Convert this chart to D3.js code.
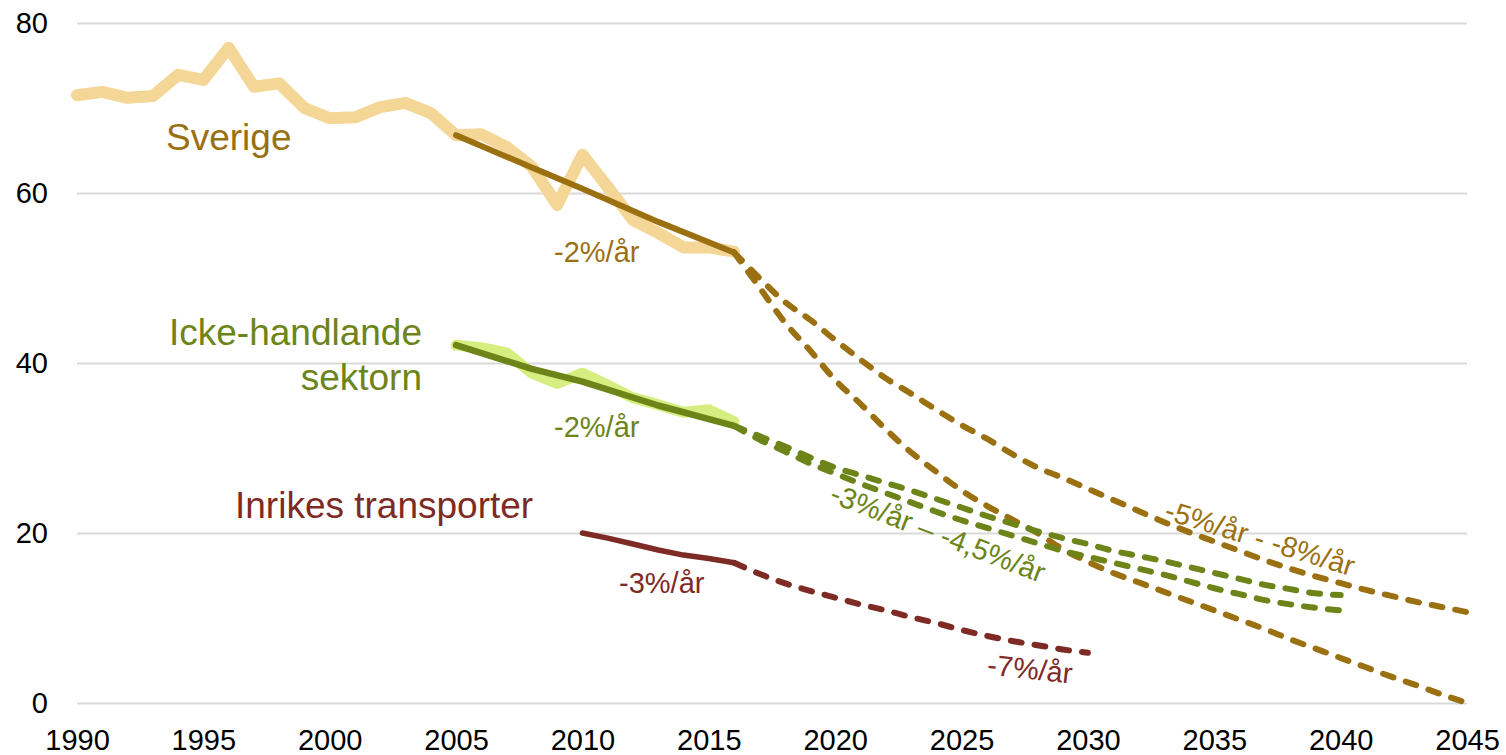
<!DOCTYPE html>
<html lang="sv">
<head>
    <meta charset="utf-8">
    <title>Utsläpp</title>
    <style>
        body { margin: 0; background: #fff; }
        svg { display: block; font-family: "Liberation Sans", Arial, sans-serif; }
        .grid line { stroke: #d9d9d9; stroke-width: 2; }
        .tick text { fill: #000; font-size: 29px; }
    </style>
</head>
<body>
    <div id="container"></div>

    <script src="https://cdn.jsdelivr.net/npm/d3@7"></script>
    <script>
        // Data (Mt CO2e)
        const sverigeYears = [1990, 1991, 1992, 1993, 1994, 1995, 1996, 1997, 1998, 1999, 2000, 2001, 2002,
            2003, 2004, 2005, 2006, 2007, 2008, 2009, 2010, 2011, 2012, 2013, 2014, 2015, 2016];
        const sverigeValues = [71.5, 71.9, 71.2, 71.4, 73.9, 73.3, 77.1, 72.5, 72.9, 70.0, 68.8, 68.9, 70.1,
            70.6, 69.4, 66.8, 66.9, 65.4, 63.1, 58.6, 64.5, 60.7, 56.8, 55.3, 53.6, 53.6, 53.1];

        const sverigeTrendYears = [2005, 2008, 2010, 2013, 2016];
        const sverigeTrendValues = [66.8, 63.0, 60.5, 56.6, 53.0];

        const projYears = [2016, 2017, 2018, 2019, 2020, 2021, 2022, 2023, 2024, 2025, 2026, 2027, 2028,
            2029, 2030, 2031, 2032, 2033, 2034, 2035, 2036, 2037, 2038, 2039, 2040, 2041, 2042, 2043, 2044, 2045];
        const sverigeLow5 = [53.0, 50.0, 47.2, 45.1, 42.7, 40.4, 38.2, 36.4, 34.5, 32.7, 31.1, 29.3, 27.7,
            26.5, 25.2, 23.9, 22.6, 21.3, 20.1, 19.0, 17.9, 16.8, 15.8, 14.9, 14.1, 13.3, 12.6, 11.9, 11.3, 10.7];
        const sverigeHigh8 = [53.0, 48.9, 44.8, 41.5, 38.0, 35.2, 32.2, 29.5, 27.2, 25.0, 23.2, 21.6, 20.0,
            18.1, 16.6, 15.3, 14.2, 13.1, 12.0, 10.9, 9.8, 8.7, 7.5, 6.4, 5.3, 4.2, 3.1, 2.1, 1.0, 0.0];

        const ickeYears = [2005, 2006, 2007, 2008, 2009, 2010, 2011, 2012, 2013, 2014, 2015, 2016];
        const ickeValues = [42.1, 41.8, 41.2, 38.8, 37.6, 38.8, 37.4, 35.9, 35.1, 34.2, 34.5, 33.1];
        const ickeTrendYears = [2005, 2008, 2010, 2013, 2016];
        const ickeTrendValues = [42.1, 39.3, 37.8, 35.0, 32.6];

        const ickeProjYears = [2016, 2017, 2018, 2019, 2020, 2021, 2022, 2023, 2024, 2025, 2026, 2027, 2028,
            2029, 2030, 2031, 2032, 2033, 2034, 2035, 2036, 2037, 2038, 2039, 2040];
        const ickeLow3 = [32.6, 31.4, 30.2, 28.9, 27.7, 26.8, 25.9, 25.0, 24.0, 23.0, 22.0, 21.1, 20.2,
            19.4, 18.7, 17.9, 17.3, 16.7, 16.0, 15.3, 14.6, 13.9, 13.4, 12.9, 12.7];
        const ickeHigh45 = [32.6, 31.0, 29.6, 28.2, 27.0, 25.8, 24.7, 23.6, 22.5, 21.5, 20.6, 19.7, 18.8,
            17.9, 17.2, 16.5, 15.8, 15.1, 14.3, 13.5, 12.8, 12.1, 11.6, 11.2, 10.9];

        const transpYears = [2010, 2011, 2012, 2013, 2014, 2015, 2016];
        const transpValues = [20.0, 19.4, 18.7, 18.0, 17.4, 17.0, 16.5];
        const transpProjYears = [2016, 2017, 2018, 2019, 2020, 2021, 2022, 2023, 2024, 2025, 2026, 2027,
            2028, 2029, 2030];
        const transpProj = [16.5, 15.2, 14.1, 13.2, 12.4, 11.6, 10.9, 10.1, 9.4, 8.6, 7.9, 7.3, 6.8, 6.3, 5.9];

        const xTicks = [1990, 1995, 2000, 2005, 2010, 2015, 2020, 2025, 2030, 2035, 2040, 2045];
        const yTicks = [0, 20, 40, 60, 80];

        // Colours
        const goldLight = "#f4d796";
        const gold = "#9a7011";
        const limeLight = "#d6ed80";
        const green = "#6c8418";
        const red = "#7e2a25";

        // Chart dimensions
        const width = 1506;
        const height = 755;
        const plotLeft = 77;
        const plotRight = 1467;
        const plotTop = 23;
        const plotBottom = 703;

        const svg = d3.select("#container").append("svg")
            .attr("width", width)
            .attr("height", height);

        const x = d3.scaleLinear().domain([1990, 2045]).range([plotLeft, plotRight]);
        const y = d3.scaleLinear().domain([0, 80]).range([plotBottom, plotTop]);

        // Gridlines + y labels
        svg.append("g")
            .attr("class", "grid")
            .attr("transform", `translate(${plotLeft},0)`)
            .call(d3.axisLeft(y).tickValues(yTicks).tickSize(-(plotRight - plotLeft)).tickPadding(29))
            .call(g => g.select(".domain").remove());

        // x labels
        svg.append("g")
            .attr("transform", `translate(0,${plotBottom})`)
            .call(d3.axisBottom(x).tickValues(xTicks).tickFormat(d3.format("d")).tickSize(0).tickPadding(26))
            .call(g => g.select(".domain").remove());

        const line = d3.line().x(d => x(d[0])).y(d => y(d[1]));
        const smooth = d3.line().curve(d3.curveMonotoneX).x(d => x(d[0])).y(d => y(d[1]));
        const pairs = (years, values) => years.map((yr, i) => [yr, values[i]]);

        function drawLine(years, values, color, w, dashed) {
            svg.append("path")
                .datum(pairs(years, values))
                .attr("fill", "none")
                .attr("stroke", color)
                .attr("stroke-width", w)
                .attr("stroke-linejoin", "round")
                .attr("stroke-linecap", "round")
                .attr("stroke-dasharray", dashed ? "11,13" : null)
                .attr("d", dashed ? smooth : line);
        }

        // historical (thick light lines)
        drawLine(sverigeYears, sverigeValues, goldLight, 12, false);
        drawLine(ickeYears, ickeValues, limeLight, 11, false);

        // projections
        drawLine(projYears, sverigeLow5, gold, 6, true);
        drawLine(projYears, sverigeHigh8, gold, 6, true);
        drawLine(ickeProjYears, ickeLow3, green, 6, true);
        drawLine(ickeProjYears, ickeHigh45, green, 6, true);
        drawLine(transpProjYears, transpProj, red, 6, true);

        // trends
        drawLine(sverigeTrendYears, sverigeTrendValues, gold, 6, false);
        drawLine(ickeTrendYears, ickeTrendValues, green, 6.5, false);
        drawLine(transpYears, transpValues, red, 5.5, false);

        // Series labels
        function label(txt, px, py, color, size, anchor, rot) {
            const t = svg.append("text")
                .attr("fill", color)
                .attr("font-size", size)
                .attr("text-anchor", anchor || "start")
                .text(txt);
            if (rot) {
                t.attr("dominant-baseline", "central")
                    .attr("transform", `translate(${px},${py}) rotate(${rot})`);
            } else {
                t.attr("x", px).attr("y", py);
            }
        }

        label("Sverige", 166, 150, gold, 37);
        label("Icke-handlande", 422, 345, green, 37, "end");
        label("sektorn", 422, 390, green, 37, "end");
        label("Inrikes transporter", 235, 518, red, 37);

        label("-2%/år", 554, 262, gold, 29);
        label("-2%/år", 554, 437, green, 29);
        label("-3%/år", 619, 593, red, 29);
        label("-7%/år", 1030, 669, red, 29, "middle", 6);
        label("-3%/år – -4,5%/år", 938, 533, green, 29, "middle", 21);
        label("-5%/år - -8%/år", 1260, 538, gold, 29, "middle", 17);
    </script>
</body>
</html>
